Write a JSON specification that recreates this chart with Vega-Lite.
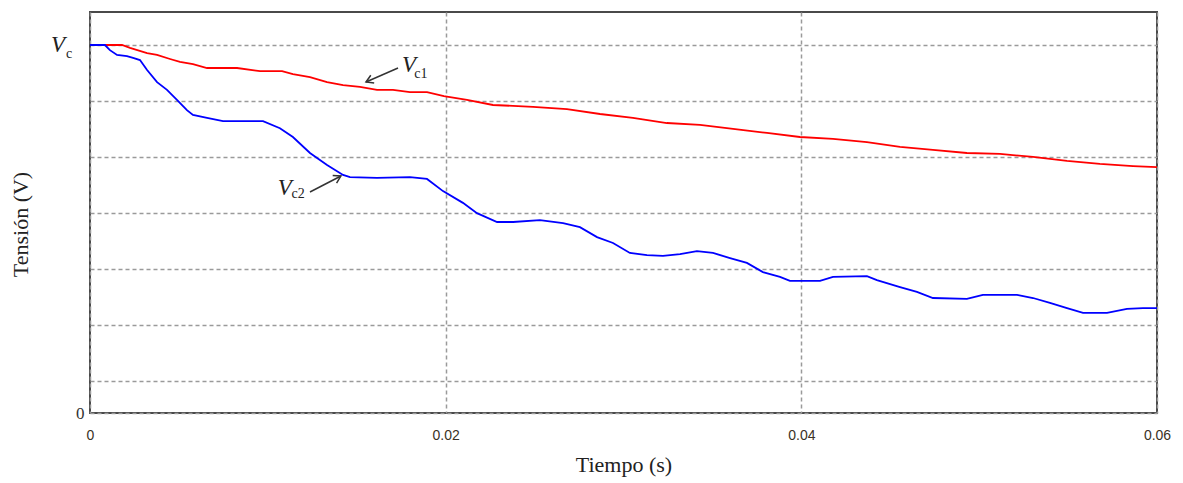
{
  "$schema": "https://vega.github.io/schema/vega-lite/v6.json",
  "width": 1067,
  "height": 401,
  "autosize": {"type": "none"},
  "padding": {"left": 90, "top": 12, "right": 26, "bottom": 70},
  "background": "white",
  "config": {
    "view": {"stroke": "#4a4a4a", "strokeWidth": 2},
    "axis": {"domain": false, "ticks": false, "tickSize": 0, "gridColor": "#9a9a9a", "gridDash": [4, 3], "gridWidth": 1.5, "labelFlush": false}
  },
  "datasets": {
    "curves": [
      {"serie": "Vc1", "t": 0, "v": 1.0},
      {"serie": "Vc1", "t": 0.0018, "v": 1.0},
      {"serie": "Vc1", "t": 0.00225, "v": 0.992},
      {"serie": "Vc1", "t": 0.00321, "v": 0.978},
      {"serie": "Vc1", "t": 0.00377, "v": 0.973},
      {"serie": "Vc1", "t": 0.0045, "v": 0.962},
      {"serie": "Vc1", "t": 0.00506, "v": 0.954},
      {"serie": "Vc1", "t": 0.00579, "v": 0.948},
      {"serie": "Vc1", "t": 0.00658, "v": 0.9375},
      {"serie": "Vc1", "t": 0.00827, "v": 0.9375},
      {"serie": "Vc1", "t": 0.00956, "v": 0.929},
      {"serie": "Vc1", "t": 0.0108, "v": 0.929},
      {"serie": "Vc1", "t": 0.01141, "v": 0.921},
      {"serie": "Vc1", "t": 0.01237, "v": 0.913},
      {"serie": "Vc1", "t": 0.01333, "v": 0.899},
      {"serie": "Vc1", "t": 0.01423, "v": 0.891},
      {"serie": "Vc1", "t": 0.01518, "v": 0.886},
      {"serie": "Vc1", "t": 0.01614, "v": 0.878},
      {"serie": "Vc1", "t": 0.01704, "v": 0.878},
      {"serie": "Vc1", "t": 0.01799, "v": 0.872},
      {"serie": "Vc1", "t": 0.01895, "v": 0.872},
      {"serie": "Vc1", "t": 0.0199, "v": 0.861},
      {"serie": "Vc1", "t": 0.0212, "v": 0.851},
      {"serie": "Vc1", "t": 0.02266, "v": 0.837},
      {"serie": "Vc1", "t": 0.02491, "v": 0.832},
      {"serie": "Vc1", "t": 0.02682, "v": 0.826},
      {"serie": "Vc1", "t": 0.02868, "v": 0.8125},
      {"serie": "Vc1", "t": 0.03053, "v": 0.802},
      {"serie": "Vc1", "t": 0.03244, "v": 0.788},
      {"serie": "Vc1", "t": 0.0343, "v": 0.783},
      {"serie": "Vc1", "t": 0.03616, "v": 0.772},
      {"serie": "Vc1", "t": 0.03807, "v": 0.761},
      {"serie": "Vc1", "t": 0.03992, "v": 0.75},
      {"serie": "Vc1", "t": 0.04178, "v": 0.745},
      {"serie": "Vc1", "t": 0.04369, "v": 0.736},
      {"serie": "Vc1", "t": 0.04555, "v": 0.723},
      {"serie": "Vc1", "t": 0.0474, "v": 0.715},
      {"serie": "Vc1", "t": 0.04931, "v": 0.7065},
      {"serie": "Vc1", "t": 0.05117, "v": 0.704},
      {"serie": "Vc1", "t": 0.05303, "v": 0.696},
      {"serie": "Vc1", "t": 0.05494, "v": 0.685},
      {"serie": "Vc1", "t": 0.05679, "v": 0.677},
      {"serie": "Vc1", "t": 0.05865, "v": 0.671},
      {"serie": "Vc1", "t": 0.06, "v": 0.668},
      {"serie": "Vc2", "t": 0, "v": 1.0},
      {"serie": "Vc2", "t": 0.00084, "v": 1.0},
      {"serie": "Vc2", "t": 0.00112, "v": 0.986},
      {"serie": "Vc2", "t": 0.00152, "v": 0.973},
      {"serie": "Vc2", "t": 0.00208, "v": 0.97},
      {"serie": "Vc2", "t": 0.00242, "v": 0.965},
      {"serie": "Vc2", "t": 0.00281, "v": 0.959},
      {"serie": "Vc2", "t": 0.00321, "v": 0.932},
      {"serie": "Vc2", "t": 0.00377, "v": 0.899},
      {"serie": "Vc2", "t": 0.00433, "v": 0.878},
      {"serie": "Vc2", "t": 0.00489, "v": 0.851},
      {"serie": "Vc2", "t": 0.00545, "v": 0.823},
      {"serie": "Vc2", "t": 0.00579, "v": 0.81},
      {"serie": "Vc2", "t": 0.00658, "v": 0.802},
      {"serie": "Vc2", "t": 0.00748, "v": 0.793},
      {"serie": "Vc2", "t": 0.00973, "v": 0.793},
      {"serie": "Vc2", "t": 0.01068, "v": 0.774},
      {"serie": "Vc2", "t": 0.01141, "v": 0.75},
      {"serie": "Vc2", "t": 0.01237, "v": 0.7065},
      {"serie": "Vc2", "t": 0.01333, "v": 0.674},
      {"serie": "Vc2", "t": 0.01423, "v": 0.647},
      {"serie": "Vc2", "t": 0.01462, "v": 0.641},
      {"serie": "Vc2", "t": 0.01614, "v": 0.639},
      {"serie": "Vc2", "t": 0.01799, "v": 0.641},
      {"serie": "Vc2", "t": 0.01895, "v": 0.636},
      {"serie": "Vc2", "t": 0.01985, "v": 0.603},
      {"serie": "Vc2", "t": 0.02097, "v": 0.571},
      {"serie": "Vc2", "t": 0.02176, "v": 0.543},
      {"serie": "Vc2", "t": 0.02289, "v": 0.519},
      {"serie": "Vc2", "t": 0.02379, "v": 0.519},
      {"serie": "Vc2", "t": 0.0253, "v": 0.524},
      {"serie": "Vc2", "t": 0.0266, "v": 0.516},
      {"serie": "Vc2", "t": 0.02755, "v": 0.505},
      {"serie": "Vc2", "t": 0.02851, "v": 0.478},
      {"serie": "Vc2", "t": 0.02941, "v": 0.462},
      {"serie": "Vc2", "t": 0.03036, "v": 0.435},
      {"serie": "Vc2", "t": 0.03132, "v": 0.429},
      {"serie": "Vc2", "t": 0.03222, "v": 0.427},
      {"serie": "Vc2", "t": 0.03318, "v": 0.432},
      {"serie": "Vc2", "t": 0.03413, "v": 0.44},
      {"serie": "Vc2", "t": 0.03503, "v": 0.435},
      {"serie": "Vc2", "t": 0.03599, "v": 0.421},
      {"serie": "Vc2", "t": 0.03694, "v": 0.408},
      {"serie": "Vc2", "t": 0.03784, "v": 0.383},
      {"serie": "Vc2", "t": 0.0388, "v": 0.37},
      {"serie": "Vc2", "t": 0.03936, "v": 0.359},
      {"serie": "Vc2", "t": 0.04105, "v": 0.359},
      {"serie": "Vc2", "t": 0.04178, "v": 0.37},
      {"serie": "Vc2", "t": 0.04369, "v": 0.372},
      {"serie": "Vc2", "t": 0.04425, "v": 0.361},
      {"serie": "Vc2", "t": 0.04555, "v": 0.342},
      {"serie": "Vc2", "t": 0.0465, "v": 0.329},
      {"serie": "Vc2", "t": 0.0474, "v": 0.3125},
      {"serie": "Vc2", "t": 0.04931, "v": 0.31},
      {"serie": "Vc2", "t": 0.05021, "v": 0.321},
      {"serie": "Vc2", "t": 0.05213, "v": 0.321},
      {"serie": "Vc2", "t": 0.05303, "v": 0.3125},
      {"serie": "Vc2", "t": 0.05398, "v": 0.299},
      {"serie": "Vc2", "t": 0.05494, "v": 0.285},
      {"serie": "Vc2", "t": 0.05584, "v": 0.272},
      {"serie": "Vc2", "t": 0.05719, "v": 0.272},
      {"serie": "Vc2", "t": 0.05831, "v": 0.283},
      {"serie": "Vc2", "t": 0.05921, "v": 0.285},
      {"serie": "Vc2", "t": 0.06, "v": 0.285}
    ],
    "bigV": [
      {"t": 0.01794, "v": 0.9457, "text": "V"},
      {"t": 0.01096, "v": 0.611, "text": "V"},
      {"t": -0.0018, "v": 1.0, "text": "V"}
    ],
    "subs": [
      {"t": 0.01861, "v": 0.921, "text": "c1"},
      {"t": 0.0117, "v": 0.595, "text": "c2"},
      {"t": -0.00118, "v": 0.976, "text": "c"}
    ],
    "shafts": [
      {"t": 0.01732, "v": 0.9375, "t2": 0.01552, "v2": 0.8995},
      {"t": 0.01237, "v": 0.6005, "t2": 0.01411, "v2": 0.644}
    ],
    "head1": [{"t": 0.01552, "v": 0.8995}],
    "head2": [{"t": 0.01411, "v": 0.644}]
  },
  "layer": [
    {
      "data": {"name": "curves"},
      "mark": {"type": "line", "strokeWidth": 1.8, "clip": true},
      "encoding": {
        "x": {
          "field": "t", "type": "quantitative",
          "scale": {"domain": [0, 0.06], "nice": false, "zero": false},
          "axis": {
            "values": [0, 0.02, 0.04, 0.06], "format": ".2~f",
            "labelFont": "Liberation Sans", "labelFontSize": 14, "labelColor": "#3a3226", "labelPadding": 15,
            "title": "Tiempo (s)", "titleFont": "Liberation Serif", "titleFontSize": 22, "titleFontWeight": "normal", "titleColor": "#222222", "titlePadding": 12,
            "grid": true
          }
        },
        "y": {
          "field": "v", "type": "quantitative",
          "scale": {"domain": [0, 1.0897], "nice": false, "zero": false},
          "axis": {
            "values": [0, 0.087, 0.239, 0.391, 0.543, 0.696, 0.848, 1],
            "labelExpr": "datum.value == 0 ? '0' : ''",
            "labelFont": "Liberation Serif", "labelFontSize": 17, "labelColor": "#333333", "labelPadding": 6,
            "title": "Tensión (V)", "titleFont": "Liberation Serif", "titleFontSize": 22, "titleFontWeight": "normal", "titleColor": "#222222", "titlePadding": 43, "titleY": 212,
            "grid": true
          }
        },
        "color": {"field": "serie", "type": "nominal", "scale": {"domain": ["Vc1", "Vc2"], "range": ["#ff0000", "#0000ff"]}, "legend": null}
      }
    },
    {
      "data": {"name": "bigV"},
      "mark": {"type": "text", "font": "Liberation Serif", "fontStyle": "italic", "fontSize": 23, "align": "center", "baseline": "middle", "color": "#222222"},
      "encoding": {"x": {"field": "t", "type": "quantitative"}, "y": {"field": "v", "type": "quantitative"}, "text": {"field": "text"}}
    },
    {
      "data": {"name": "subs"},
      "mark": {"type": "text", "font": "Liberation Serif", "fontSize": 14, "align": "center", "baseline": "middle", "color": "#222222"},
      "encoding": {"x": {"field": "t", "type": "quantitative"}, "y": {"field": "v", "type": "quantitative"}, "text": {"field": "text"}}
    },
    {
      "data": {"name": "shafts"},
      "mark": {"type": "rule", "color": "#333333", "strokeWidth": 1.5},
      "encoding": {
        "x": {"field": "t", "type": "quantitative"}, "y": {"field": "v", "type": "quantitative"},
        "x2": {"field": "t2"}, "y2": {"field": "v2"}
      }
    },
    {
      "data": {"name": "head1"},
      "mark": {"type": "point", "shape": "M-0.6,1L0,0L0.6,1", "filled": false, "stroke": "#333333", "strokeWidth": 1.5, "size": 200, "angle": 246.4, "opacity": 1},
      "encoding": {"x": {"field": "t", "type": "quantitative"}, "y": {"field": "v", "type": "quantitative"}}
    },
    {
      "data": {"name": "head2"},
      "mark": {"type": "point", "shape": "M-0.6,1L0,0L0.6,1", "filled": false, "stroke": "#333333", "strokeWidth": 1.5, "size": 200, "angle": 62.7, "opacity": 1},
      "encoding": {"x": {"field": "t", "type": "quantitative"}, "y": {"field": "v", "type": "quantitative"}}
    }
  ]
}
